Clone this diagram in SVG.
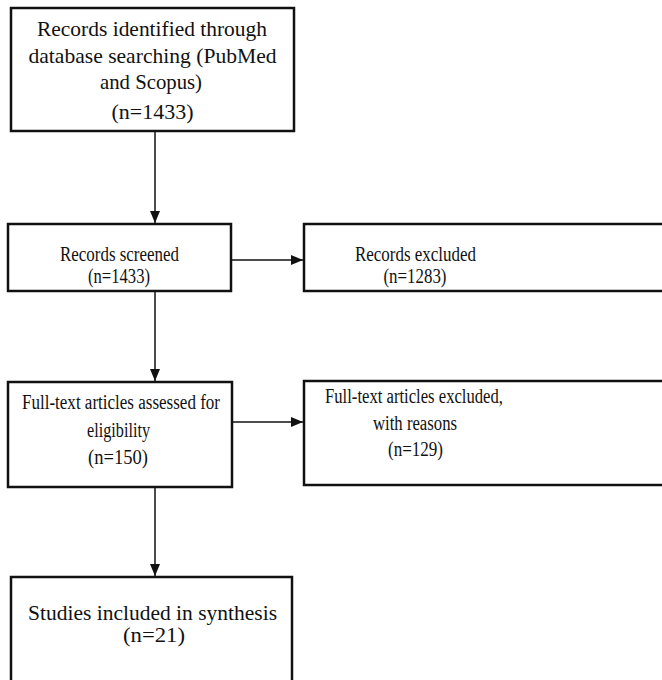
<svg xmlns="http://www.w3.org/2000/svg" width="662" height="680" viewBox="0 0 662 680">
<style>
.box{fill:#fff;stroke:#111;stroke-width:2.5}
.t{font-family:"Liberation Serif","Times New Roman",serif;font-size:20px;fill:#111;text-anchor:middle}
.w{font-size:21px}
.c{stroke:#111;stroke-width:1.5;fill:none}
</style>
<defs>
<marker id="ah" viewBox="0 0 12 10" refX="12" refY="5" markerWidth="12" markerHeight="10" markerUnits="userSpaceOnUse" orient="auto">
<path d="M0,0 L12,5 L0,10 Z" fill="#111"/>
</marker>
</defs>
<rect width="662" height="680" fill="#fff"/>
<g id="connectors">
<line class="c" x1="155" y1="132" x2="155" y2="223" marker-end="url(#ah)"/>
<line class="c" x1="155" y1="292" x2="155" y2="381" marker-end="url(#ah)"/>
<line class="c" x1="155" y1="488" x2="155" y2="576" marker-end="url(#ah)"/>
<line class="c" x1="232" y1="260" x2="303" y2="260" marker-end="url(#ah)"/>
<line class="c" x1="232" y1="422" x2="303" y2="422" marker-end="url(#ah)"/>
</g>
<g id="identified">
<rect class="box" x="11" y="8" width="283" height="123"/>
<text class="t w" x="152" y="36" textLength="230" lengthAdjust="spacingAndGlyphs">Records identified through</text>
<text class="t w" x="152.5" y="63" textLength="248" lengthAdjust="spacingAndGlyphs">database searching (PubMed</text>
<text class="t w" x="151" y="89" textLength="102" lengthAdjust="spacingAndGlyphs">and Scopus)</text>
<text class="t w" x="152.5" y="119" textLength="82" lengthAdjust="spacingAndGlyphs">(n=1433)</text>
</g>
<g id="screened">
<rect class="box" x="8" y="224" width="223" height="67"/>
<text class="t" x="119.5" y="261" textLength="119" lengthAdjust="spacingAndGlyphs">Records screened</text>
<text class="t" x="119" y="283" textLength="62" lengthAdjust="spacingAndGlyphs">(n=1433)</text>
</g>
<g id="excluded">
<rect class="box" x="304" y="224" width="362" height="67"/>
<text class="t" x="415.5" y="261" textLength="121" lengthAdjust="spacingAndGlyphs">Records excluded</text>
<text class="t" x="415" y="283" textLength="63" lengthAdjust="spacingAndGlyphs">(n=1283)</text>
</g>
<g id="fulltext">
<rect class="box" x="8" y="382" width="224" height="105"/>
<text class="t" x="121" y="409" textLength="198" lengthAdjust="spacingAndGlyphs">Full-text articles assessed for</text>
<text class="t" x="118.5" y="437" textLength="63" lengthAdjust="spacingAndGlyphs">eligibility</text>
<text class="t" x="118" y="464" textLength="60" lengthAdjust="spacingAndGlyphs">(n=150)</text>
</g>
<g id="fulltext-excluded">
<rect class="box" x="304" y="381" width="362" height="104"/>
<text class="t" x="414" y="403" textLength="178" lengthAdjust="spacingAndGlyphs">Full-text articles excluded,</text>
<text class="t" x="415" y="430" textLength="84" lengthAdjust="spacingAndGlyphs">with reasons</text>
<text class="t" x="415.5" y="456" textLength="55" lengthAdjust="spacingAndGlyphs">(n=129)</text>
</g>
<g id="included">
<rect class="box" x="11" y="577" width="281" height="110"/>
<text class="t w" x="152.5" y="620" textLength="249" lengthAdjust="spacingAndGlyphs">Studies included in synthesis</text>
<text class="t w" x="154" y="642" textLength="62" lengthAdjust="spacingAndGlyphs">(n=21)</text>
</g>
</svg>
